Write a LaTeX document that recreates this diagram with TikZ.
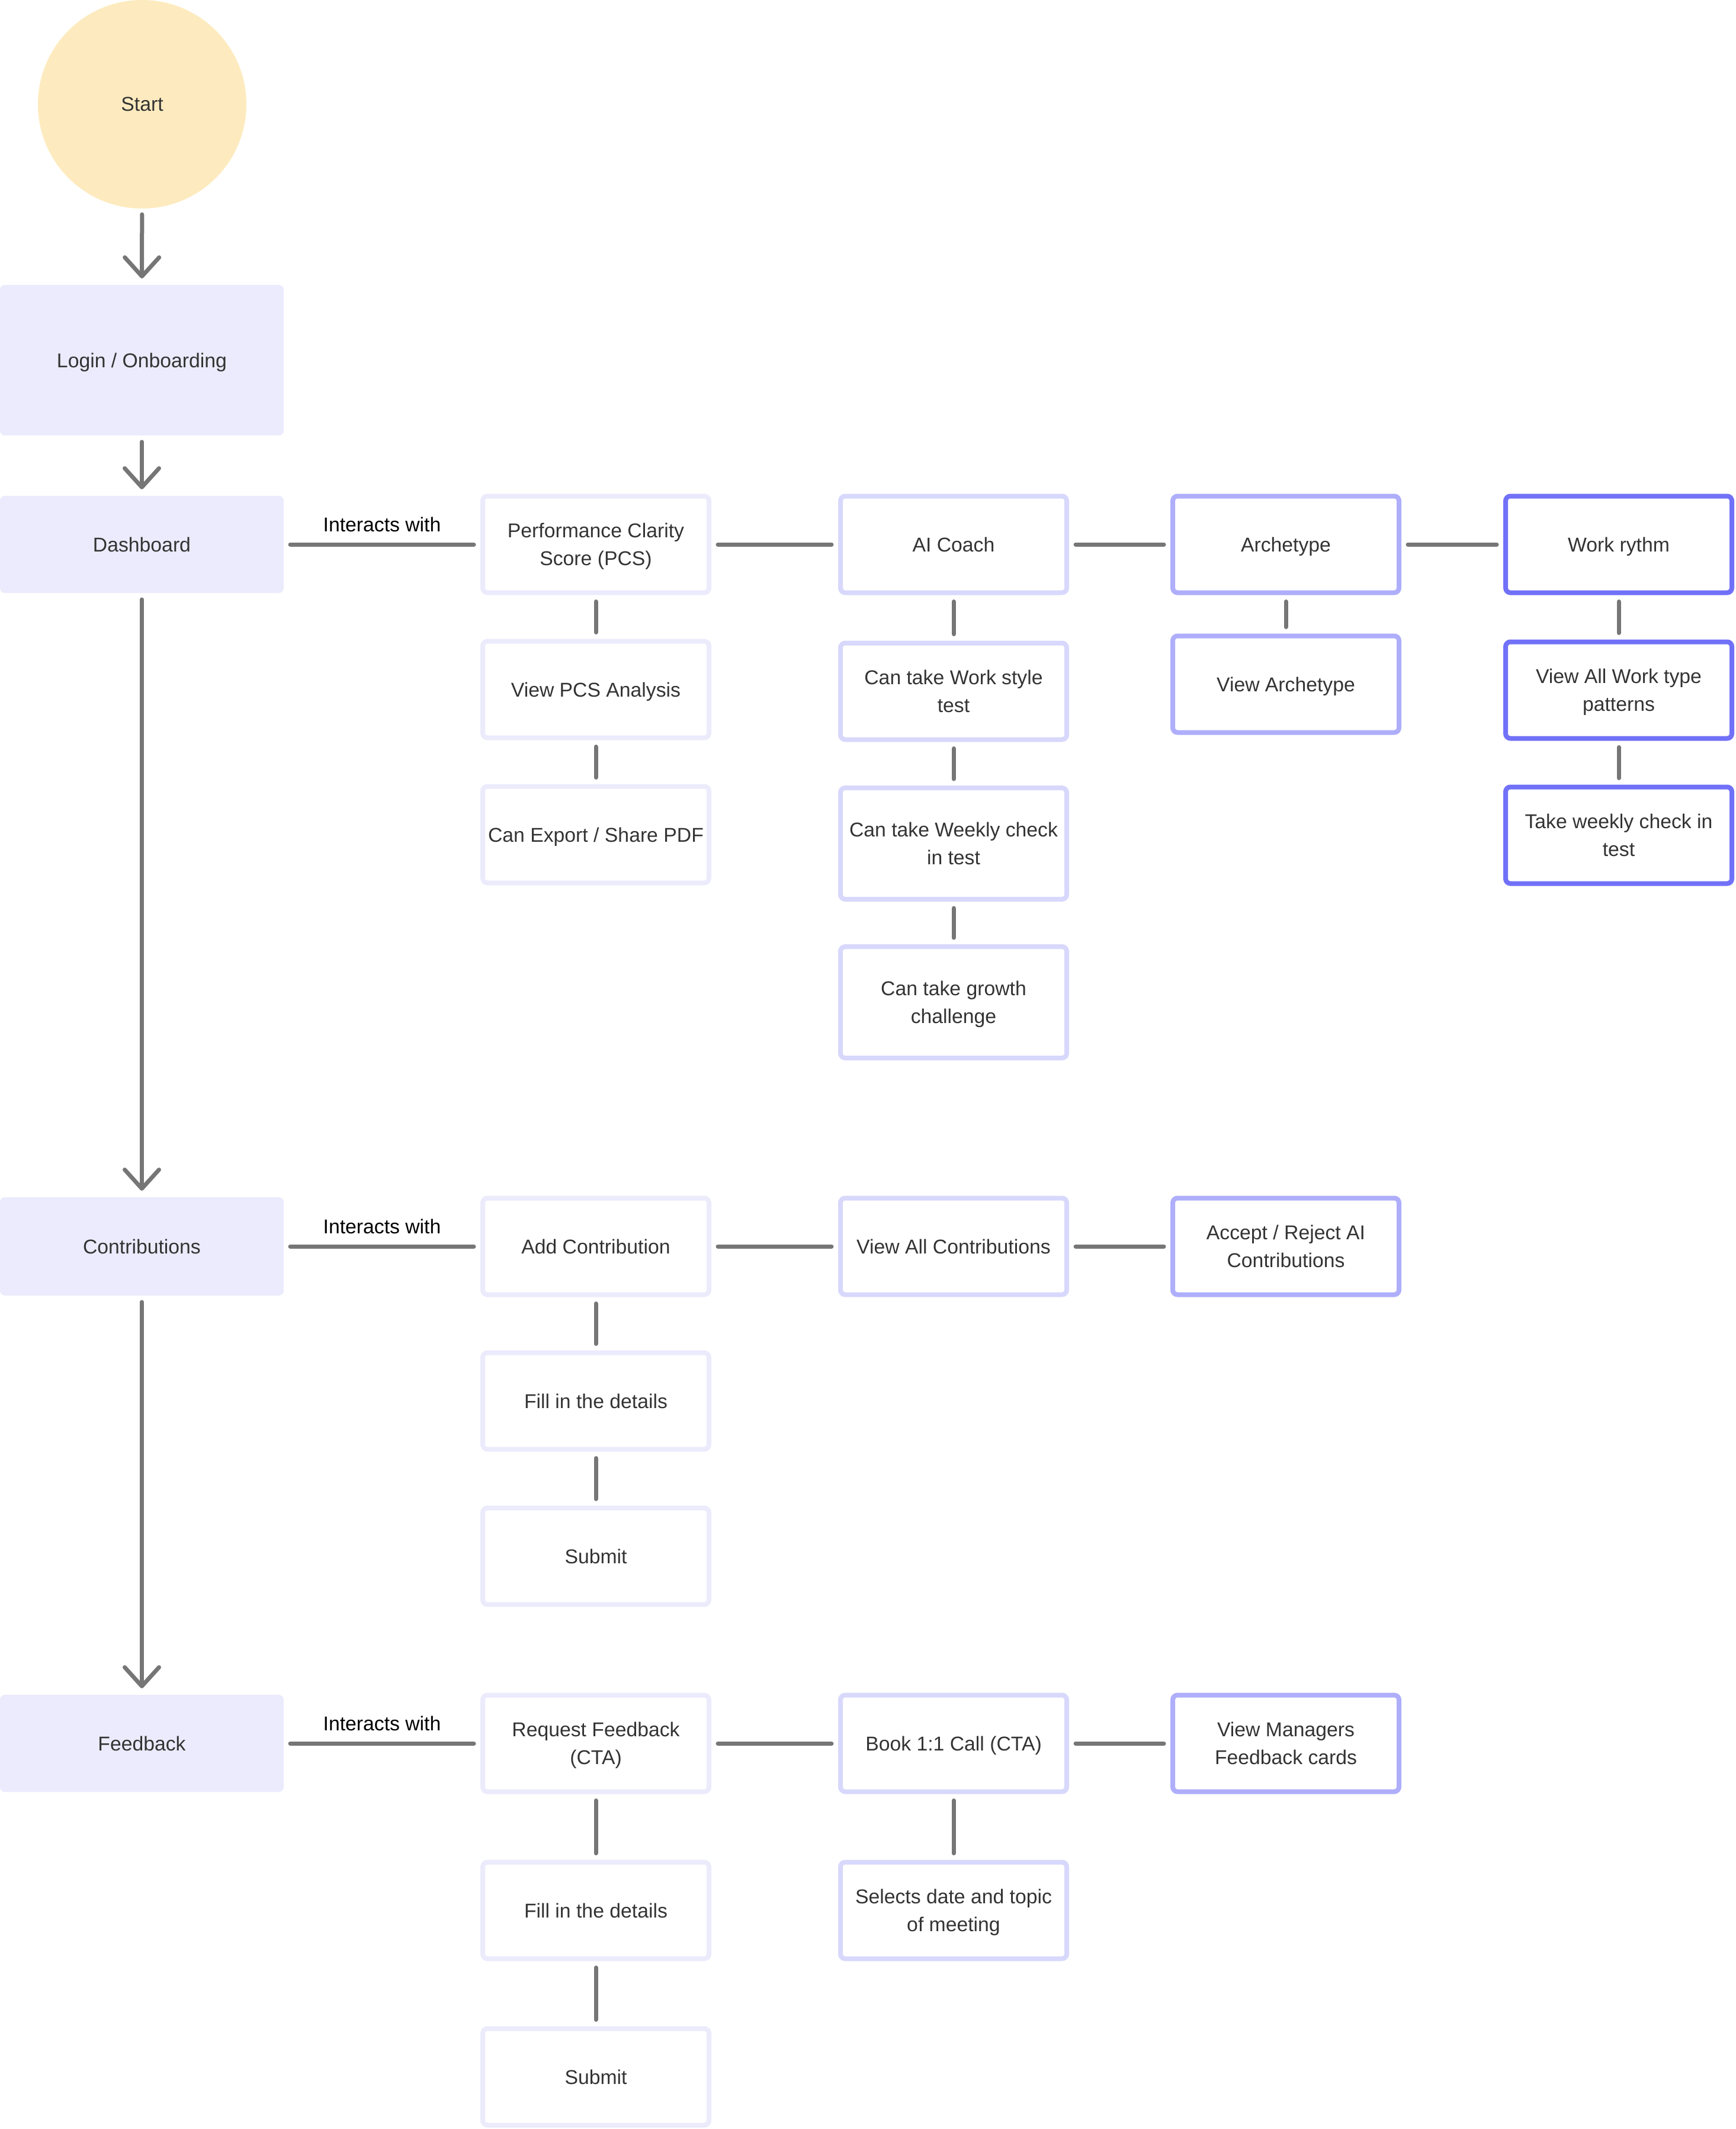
\documentclass[tikz,border=0pt]{standalone}
\usepackage{fontspec}
\setmainfont{Liberation Sans}
\usetikzlibrary{arrows.meta}

\definecolor{startfill}{HTML}{FDEBBF}
\definecolor{stagefill}{HTML}{EBEBFD}
\definecolor{tintA}{HTML}{EBEBFC}
\definecolor{tintB}{HTML}{D8D8FC}
\definecolor{tintC}{HTML}{AEAEFB}
\definecolor{tintD}{HTML}{7171F8}
\definecolor{wire}{HTML}{767676}
\definecolor{ink}{HTML}{333333}

\tikzset{
  boxfont/.style={font=\fontsize{9.6}{13.5}\selectfont, text=ink, align=center, inner sep=0pt, text depth=0pt},
  startnode/.style={circle, fill=startfill, minimum size=3.52cm, outer sep=0.1cm, boxfont},
  stage/.style={rectangle, rounded corners=0.08cm, fill=stagefill, minimum width=4.79cm, outer sep=0.11cm, boxfont},
  card/.style={rectangle, rounded corners=0.08cm, draw=#1, line width=0.08cm, fill=white,
    minimum width=3.82cm, minimum height=1.63cm, outer sep=0.15cm, boxfont},
  tall/.style={minimum height=1.88cm},
  link/.style={draw=wire, line width=0.07cm, line cap=round},
  flow/.style={link, -{Straight Barb[length=0.32cm, width=0.58cm, round]}},
  tag/.style={above=0.18cm, inner sep=0pt, font=\fontsize{9.6}{13.5}\selectfont, text=black}
}

\begin{document}
\begin{tikzpicture}
  \useasboundingbox (0,0) rectangle (29.30,-35.94);

  % main flow
  \node[startnode] (start) at (2.40,-1.76) {Start};
  \node[stage, minimum height=2.54cm] (login) at (2.395,-6.08) {Login / Onboarding};
  \node[stage, minimum height=1.64cm] (dash) at (2.395,-9.19) {Dashboard};
  \node[stage, minimum height=1.66cm] (contrib) at (2.395,-21.04) {Contributions};
  \node[stage, minimum height=1.64cm] (feed) at (2.395,-29.43) {Feedback};

  % dashboard row
  \node[card=tintA] (pcs) at (10.06,-9.19) {Performance Clarity\\Score (PCS)};
  \node[card=tintA] (pcsview) at (10.06,-11.64) {View PCS Analysis};
  \node[card=tintA] (pcspdf) at (10.06,-14.09) {Can Export / Share PDF};
  \node[card=tintB] (coach) at (16.10,-9.19) {AI Coach};
  \node[card=tintB] (coachstyle) at (16.10,-11.67) {Can take Work style\\test};
  \node[card=tintB, tall] (coachweek) at (16.10,-14.24) {Can take Weekly check\\in test};
  \node[card=tintB, tall] (coachgrow) at (16.10,-16.92) {Can take growth\\challenge};
  \node[card=tintC] (arche) at (21.71,-9.19) {Archetype};
  \node[card=tintC] (archeview) at (21.71,-11.55) {View Archetype};
  \node[card=tintD] (rythm) at (27.33,-9.19) {Work rythm};
  \node[card=tintD] (rythmall) at (27.33,-11.65) {View All Work type\\patterns};
  \node[card=tintD] (rythmweek) at (27.33,-14.10) {Take weekly check in\\test};

  % contributions row
  \node[card=tintA] (cadd) at (10.06,-21.04) {Add Contribution};
  \node[card=tintA] (cfill) at (10.06,-23.65) {Fill in the details};
  \node[card=tintA] (csubmit) at (10.06,-26.27) {Submit};
  \node[card=tintB] (call) at (16.10,-21.04) {View All Contributions};
  \node[card=tintC] (caccept) at (21.71,-21.04) {Accept / Reject AI\\Contributions};

  % feedback row
  \node[card=tintA] (freq) at (10.06,-29.43) {Request Feedback\\(CTA)};
  \node[card=tintA] (ffill) at (10.06,-32.25) {Fill in the details};
  \node[card=tintA] (fsubmit) at (10.06,-35.06) {Submit};
  \node[card=tintB] (fbook) at (16.10,-29.43) {Book 1:1 Call (CTA)};
  \node[card=tintB] (fdate) at (16.10,-32.25) {Selects date and topic\\of meeting};
  \node[card=tintC] (fcards) at (21.71,-29.43) {View Managers\\Feedback cards};

  \path[flow]
    (start) edge (login)
    (login) edge (dash)
    (dash) edge (contrib)
    (contrib) edge (feed)
  ;
  \path[link]
    (dash) edge node[tag] {Interacts with} (pcs)
    (pcs) edge (coach)
    (coach) edge (arche)
    (arche) edge (rythm)
    (pcs) edge (pcsview)
    (pcsview) edge (pcspdf)
    (coach) edge (coachstyle)
    (coachstyle) edge (coachweek)
    (coachweek) edge (coachgrow)
    (arche) edge (archeview)
    (rythm) edge (rythmall)
    (rythmall) edge (rythmweek)
    (contrib) edge node[tag] {Interacts with} (cadd)
    (cadd) edge (call)
    (call) edge (caccept)
    (cadd) edge (cfill)
    (cfill) edge (csubmit)
    (feed) edge node[tag] {Interacts with} (freq)
    (freq) edge (fbook)
    (fbook) edge (fcards)
    (freq) edge (ffill)
    (ffill) edge (fsubmit)
    (fbook) edge (fdate)
  ;
\end{tikzpicture}
\end{document}
